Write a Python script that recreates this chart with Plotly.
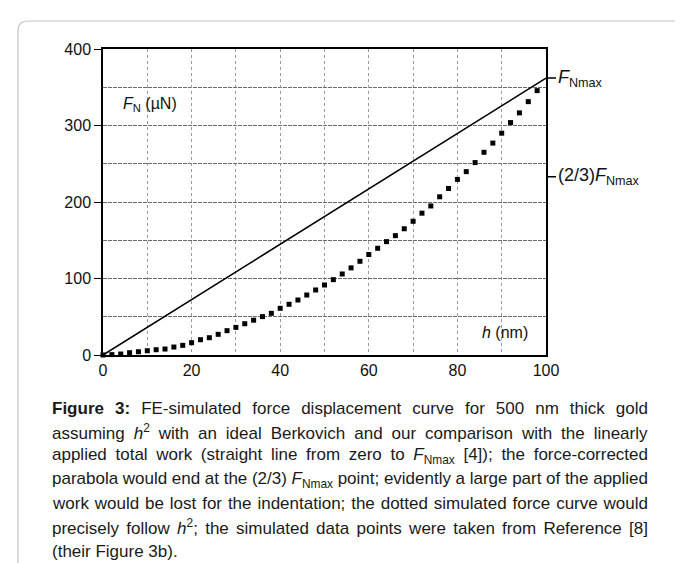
import plotly.graph_objects as go

# ---- data ----
h_sim = [0, 2, 4, 6, 8, 10, 12, 14, 16, 18, 20, 22, 24, 26, 28, 30, 32, 34, 36, 38,
         40, 42, 44, 46, 48, 50, 52, 54, 56, 58, 60, 62, 64, 66, 68, 70, 72, 74, 76, 78,
         80, 82, 84, 86, 88, 90, 92, 94, 96, 98]
F_sim = [0, 0.5, 1.3, 3.0, 4.3, 5.6, 6.9, 7.8, 10.4, 12.6, 16.1, 20, 22.6, 27, 31.8, 36.1,
         40.9, 45.5, 50.2, 54.5, 61, 66.3, 71.9, 78.4, 85, 91.5, 98.5, 105.9, 113.9, 122.5,
         131.4, 139.5, 148.2, 156, 165, 174.8, 185.4, 194.8, 206.8, 217.7, 229.5, 239.7,
         251.5, 265, 277, 290, 303.8, 316.5, 331.2, 345.6]
h_line = [0, 100]
F_line = [0, 362]
F_max_mark = 362
F_two_thirds_mark = 233
x_ticks = [0, 20, 40, 60, 80, 100]
y_ticks = [0, 100, 200, 300, 400]

caption_lines = [
    "<b>Figure 3:</b> FE-simulated force displacement curve for 500 nm thick gold",
    "assuming <i>h</i><sup>2</sup> with an ideal Berkovich and our comparison with the linearly",
    "applied total work (straight line from zero to <i>F</i><sub>Nmax</sub> [4]); the force-corrected",
    "parabola would end at the (2/3) <i>F</i><sub>Nmax</sub> point; evidently a large part of the applied",
    "work would be lost for the indentation; the dotted simulated force curve would",
    "precisely follow <i>h</i><sup>2</sup>; the simulated data points were taken from Reference [8]",
    "(their Figure 3b).",
]

W, H = 683, 563
L, R, T, B = 95, 145, 41, 216
PW, PH = W - L - R, H - T - B

def px(xp):
    return (xp - L) / PW

def py(yp):
    return (H - B - yp) / PH

fig = go.Figure()

fig.add_trace(go.Scatter(x=h_line, y=F_line, mode="lines",
                         line=dict(color="black", width=1.6), hoverinfo="skip"))
fig.add_trace(go.Scatter(x=h_sim, y=F_sim, mode="markers",
                         marker=dict(symbol="square", size=5, color="black"),
                         cliponaxis=False, hoverinfo="skip"))

tickfont = dict(family="Liberation Sans, Arial, sans-serif", size=16, color="#111")

fig.update_xaxes(range=[0, 100], tickvals=x_ticks, ticks="", tickfont=tickfont,
                 showline=True, linecolor="black", linewidth=1.5, mirror=True,
                 showgrid=True, gridcolor="#9a9a9a", gridwidth=1, griddash="dot",
                 minor=dict(dtick=10, showgrid=True, gridcolor="#9a9a9a", gridwidth=1, griddash="dot"),
                 zeroline=False, fixedrange=True)
fig.update_yaxes(range=[0, 400], tickvals=y_ticks, ticks="outside", ticklen=7, tickwidth=1.2,
                 tickcolor="black", tickfont=tickfont,
                 showline=True, linecolor="black", linewidth=1.5, mirror=True,
                 showgrid=True, gridcolor="#6a6a6a", gridwidth=1.2, griddash="4px,1px",
                 minor=dict(dtick=50, showgrid=True, gridcolor="#6a6a6a", gridwidth=1.2, griddash="4px,1px"),
                 zeroline=False, fixedrange=True)

ann = []
lblfont = dict(family="Liberation Sans, Arial, sans-serif", size=16, color="#111")
rfont = dict(family="Liberation Sans, Arial, sans-serif", size=18, color="#111")
ann.append(dict(x=4, y=327, xref="x", yref="y", xanchor="left", yanchor="middle",
                text="<i>F</i><sub>N</sub> (µN)", showarrow=False, font=lblfont))
ann.append(dict(x=96.5, y=29, xref="x", yref="y", xanchor="right", yanchor="middle",
                text="<i>h</i> (nm)", showarrow=False, font=lblfont))
ann.append(dict(x=100, y=F_max_mark, xref="x", yref="y", ax=10, ay=0, axref="pixel", ayref="pixel",
                xanchor="left", yanchor="middle", showarrow=True, arrowhead=0, arrowwidth=1.4,
                arrowcolor="black", standoff=0, startstandoff=0,
                text="<i>F</i><sub>Nmax</sub>", font=rfont))
ann.append(dict(x=100, y=F_two_thirds_mark, xref="x", yref="y", ax=10, ay=0, axref="pixel", ayref="pixel",
                xanchor="left", yanchor="middle", showarrow=True, arrowhead=0, arrowwidth=1.4,
                arrowcolor="black", standoff=0, startstandoff=0,
                text="(2/3)<i>F</i><sub>Nmax</sub>", font=rfont))

capfont = dict(family="Liberation Sans, Arial, sans-serif", size=17, color="#1a1a1a")
cap_y = [400, 424, 448, 472, 495, 519, 543]
cap_left = 42
for txt, yy in zip(caption_lines, cap_y):
    ann.append(dict(x=px(cap_left), y=py(yy), xref="paper", yref="paper", xanchor="left", yanchor="middle",
                    text=txt, showarrow=False, font=capfont, align="left"))

# rounded light-grey page frame
fl, ft, fr, rad = 10, 13, 677, 10
frame_path = (f"M {px(fl)},{py(H)} L {px(fl)},{py(ft + rad)} "
              f"Q {px(fl)},{py(ft)} {px(fl + rad)},{py(ft)} "
              f"L {px(fr - rad)},{py(ft)} Q {px(fr)},{py(ft)} {px(fr)},{py(ft + rad)} "
              f"L {px(fr)},{py(H)}")

fig.update_layout(
    width=W, height=H, margin=dict(l=L, r=R, t=T, b=B),
    paper_bgcolor="white", plot_bgcolor="white", showlegend=False,
    annotations=ann,
    shapes=[dict(type="path", path=frame_path, xref="paper", yref="paper",
                 line=dict(color="#c4c4c4", width=1.2), layer="below")],
)

# justify the caption lines (all but the last) to the reference width
justify_js = """
(function(){
  try {
    var gd = document.getElementById('{plot_id}');
    var target = 596;
    var anns = gd.querySelectorAll('g.annotation');
    anns.forEach(function(a){
      var idx = +a.getAttribute('data-index');
      if (idx >= 4 && idx <= 9) {
        var t = a.querySelector('text.annotation-text');
        if (!t) return;
        var w = t.getBBox().width;
        var s = (t.textContent.match(/ /g) || []).length;
        if (s > 0) t.style.wordSpacing = ((target - w) / s) + 'px';
      }
    });
  } catch (e) {}
})();
"""

fig.write_html("out.html", post_script=justify_js)
